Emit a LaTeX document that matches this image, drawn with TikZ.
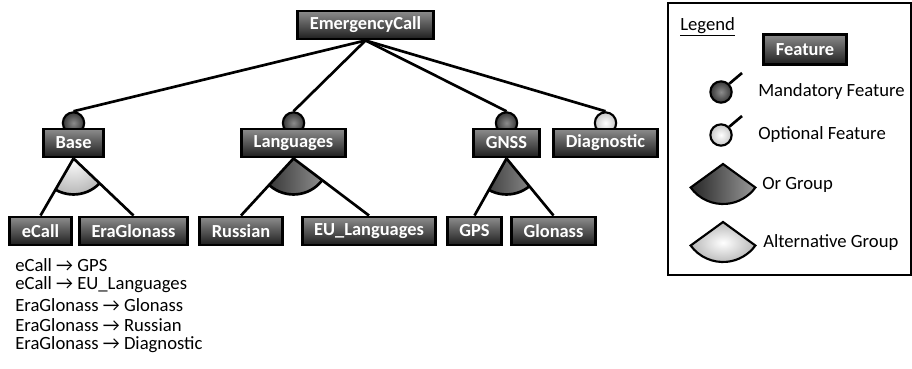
\documentclass[tikz,border=0pt]{standalone}
\usepackage{fontspec}
\setmainfont{Carlito}

\tikzset{
  feature/.style={draw,line width=2.2pt,top color=black!45,bottom color=black!88,
    text=white,font=\bfseries\fontsize{13.8}{16}\selectfont,inner xsep=9pt,minimum height=21pt},
  mandatory/.style={circle,draw,line width=1.6pt,minimum size=16pt,inner sep=0pt,
    inner color=black!45,outer color=black!78},
  optional/.style={mandatory,inner color=white,outer color=black!22},
  conn/.style={line width=2pt},
  orgroup/.style={left color=black!85,right color=black!40},
  altgroup/.style={inner color=white,outer color=black!28},
  txt/.style={font=\fontsize{14}{16}\selectfont,inner sep=0pt}
}

\begin{document}
\begin{tikzpicture}[x=0.75pt,y=0.75pt]
\useasboundingbox (0,0) rectangle (912,-368);

\node[feature] (ec) at (365.5,-25) {EmergencyCall};

\foreach \n/\x/\t in {base/73.5/mandatory,lang/293.5/mandatory,gnss/506.5/mandatory,diag/605.5/optional}{
    \node[\t] (c-\n) at (\x,-123) {};
    \draw[conn] (ec.south) -- (c-\n.north);
}

\node[feature] (base) at (73.5,-143) {Base};
\node[feature] (lang) at (293.5,-143) {Languages};
\node[feature] (gnss) at (506.5,-143) {GNSS};
\node[feature] (diag) at (605.5,-143) {Diagnostic};

\node[feature] (ecall) at (40.5,-231) {eCall};
\node[feature] (era) at (133.5,-231) {EraGlonass};
\node[feature] (rus) at (241,-231) {Russian};
\node[feature] (eul) at (369,-231) {EU\_Languages};
\node[feature] (gps) at (474.5,-231) {GPS};
\node[feature] (glo) at (553.5,-231) {Glonass};

\foreach \p/\a/\b/\g in {base/ecall/era/altgroup,lang/rus/eul/orgroup,gnss/gps/glo/orgroup}{
    \begin{scope}
        \clip (\p.south) -- (\a.north) -- (\b.north) -- cycle;
        \fill[\g] (\p.south) circle (27pt);
        \draw[conn] (\p.south) circle (27pt);
    \end{scope}
    \draw[conn] (\p.south) -- (\a.north) (\p.south) -- (\b.north);
}

\foreach \a/\b [count=\i] in {eCall/GPS,eCall/EU\_Languages,EraGlonass/Glonass,EraGlonass/Russian,EraGlonass/Diagnostic}
    \node[txt,anchor=west] (req-\i) at (15,-245-20*\i) {\a{} → \b};

\draw[line width=1.5pt] (668,-3) rectangle (910.5,-275);
\node[txt,anchor=base west] (leg) at (680,-30) {\underline{Legend}};
\node[feature,minimum height=23pt] (leg-f) at (805,-49.5) {Feature};

\node[mandatory] (leg-m) at (721,-92) {};
\coordinate (leg-m-tip) at (742,-73);
\draw[conn] (leg-m.45) -- (leg-m-tip);
\node[txt,anchor=west] (leg-m-t) at (758,-92) {Mandatory Feature};

\node[optional] (leg-o) at (721,-135) {};
\coordinate (leg-o-tip) at (742,-116);
\draw[conn] (leg-o.45) -- (leg-o-tip);
\node[txt,anchor=west] (leg-o-t) at (758,-135) {Optional Feature};

\coordinate (leg-or) at (723,-164);
\filldraw[orgroup,line width=1.6pt] (leg-or) -- ++(216:30pt) arc[start angle=216,end angle=324,radius=30pt] -- cycle;
\node[txt,anchor=west] (leg-or-t) at (762,-185) {Or Group};

\coordinate (leg-alt) at (723,-222);
\filldraw[altgroup,line width=1.6pt] (leg-alt) -- ++(216:30pt) arc[start angle=216,end angle=324,radius=30pt] -- cycle;
\node[txt,anchor=west] (leg-alt-t) at (763,-243) {Alternative Group};

\end{tikzpicture}
\end{document}
